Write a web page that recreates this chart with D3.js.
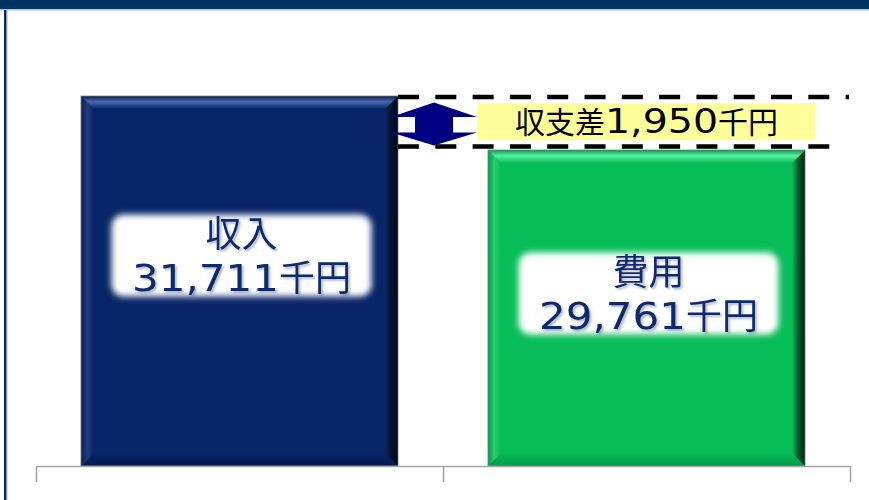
<!DOCTYPE html>
<html>
<head>
<meta charset="utf-8">
<script src="https://cdn.jsdelivr.net/npm/d3@7"></script>
<style>
  html, body { margin: 0; padding: 0; background: #ffffff; }
  svg { display: block; }
</style>
</head>
<body>
<script>
// ---- data ----
const categories = ["収入", "費用"];
const values = [31711, 29761];
const unitLabel = "千円";
const gapLabel = "収支差";
const axisMin = 18350;

// ---- styles ----
const palettes = [
  { base: "#082567", light: "#4a68aa", edge: "#0a2058", dark: "#010816", low: "#051a4c" },
  { base: "#07bd58", light: "#5cf0a4", edge: "#079a48", dark: "#032414", low: "#05994a" }
];
const textColor = "#0e2b6b";
const cjkFont = "'Noto Sans CJK JP', 'Noto Sans', sans-serif";
const digitFont = "'DejaVu Sans', 'Noto Sans', sans-serif";

const W = 869, H = 500;
const svg = d3.select("body").append("svg").attr("width", W).attr("height", H);
const defs = svg.append("defs");

// scales
const x = d3.scaleBand().domain(categories).range([36, 850])
  .paddingInner(0.221).paddingOuter(0.1105);
const y = d3.scaleLinear().domain([axisMin, d3.max(values)]).range([466, 96]);
const fmt = d3.format(",");

// frame: header band and left rule
svg.append("rect").attr("x", 0).attr("y", 0).attr("width", W).attr("height", 9).attr("fill", "#003366");
svg.append("line").attr("x1", 0).attr("x2", W).attr("y1", 9.8).attr("y2", 9.8)
  .attr("stroke", "#b7c3d6").attr("stroke-width", 1.4);
svg.append("rect").attr("x", 4).attr("y", 10).attr("width", 2.6).attr("height", H - 10).attr("fill", "#0b2a6c");
svg.append("line").attr("x1", 7.2).attr("x2", 7.2).attr("y1", 10).attr("y2", H)
  .attr("stroke", "#c4cede").attr("stroke-width", 1);

// filters
const soft = defs.append("filter").attr("id", "soft").attr("x", "-10%").attr("y", "-20%").attr("width", "120%").attr("height", "140%");
soft.append("feGaussianBlur").attr("stdDeviation", 3.2);
const shadow = defs.append("filter").attr("id", "txtShadow").attr("x", "-10%").attr("y", "-20%").attr("width", "130%").attr("height", "150%");
shadow.append("feDropShadow").attr("dx", 1.8).attr("dy", 1.8).attr("stdDeviation", 1)
  .attr("flood-color", "#5d6b8c").attr("flood-opacity", 0.5);

function grad(id, vertical, stops) {
  const g = defs.append("linearGradient").attr("id", id)
    .attr("x1", 0).attr("y1", 0).attr("x2", vertical ? 0 : 1).attr("y2", vertical ? 1 : 0);
  stops.forEach(([o, c]) => g.append("stop").attr("offset", o).attr("stop-color", c));
  return `url(#${id})`;
}

// bevelled bar
function bevelBar(g, x0, y0, w, h, p, i) {
  const b = 13;
  const x1 = x0 + w, y1 = y0 + h;
  g.append("rect").attr("x", x0).attr("y", y0).attr("width", w).attr("height", h).attr("fill", p.base);
  const topF = grad(`top${i}`, true, [[0, p.edge], [0.45, p.light], [1, p.base]]);
  const leftF = grad(`left${i}`, false, [[0, p.edge], [0.5, d3.interpolateRgb(p.base, p.light)(0.35)], [1, p.base]]);
  const rightF = grad(`right${i}`, false, [[0, p.base], [0.45, d3.interpolateRgb(p.base, p.dark)(0.6)], [1, p.dark]]);
  const botF = grad(`bot${i}`, true, [[0, p.base], [1, p.low]]);
  const poly = pts => pts.map(d => d.join(",")).join(" ");
  g.append("polygon").attr("points", poly([[x0, y1], [x0 + b, y1 - b], [x1 - b, y1 - b], [x1, y1]])).attr("fill", botF);
  g.append("polygon").attr("points", poly([[x0, y0], [x0 + b, y0 + b], [x0 + b, y1 - b], [x0, y1]])).attr("fill", leftF);
  g.append("polygon").attr("points", poly([[x1, y0], [x1 - b, y0 + b], [x1 - b, y1 - b], [x1, y1]])).attr("fill", rightF);
  g.append("polygon").attr("points", poly([[x0, y0], [x1, y0], [x1 - b, y0 + b], [x0 + b, y0 + b]])).attr("fill", topF);
  g.append("rect").attr("x", x0).attr("y", y0).attr("width", w).attr("height", h)
    .attr("fill", "none").attr("stroke", "#7c7c7c").attr("stroke-opacity", 0.7).attr("stroke-width", 1);
}

// text line of the form "<number>千円" with wide digits
function numberLine(parent, cx, baseline, num, cjkSize, digitSize, digitAdv, commaAdv, color) {
  const s = fmt(num);
  const nDig = s.replace(/,/g, "").length, nCom = s.length - nDig;
  const dLen = nDig * digitAdv + nCom * commaAdv;
  const total = dLen + 2 * cjkSize;
  const t = parent.append("text").attr("x", cx - total / 2).attr("y", baseline)
    .attr("fill", color);
  t.append("tspan").attr("font-family", digitFont).attr("font-size", digitSize).attr("textLength", dLen)
    .attr("lengthAdjust", "spacingAndGlyphs").text(s);
  t.append("tspan").attr("font-family", cjkFont).attr("font-size", cjkSize).text(unitLabel);
  return t;
}

const barBottom = y.range()[0];
const bars = svg.append("g");
categories.forEach((c, i) => {
  const x0 = x(c), w = x.bandwidth(), y0 = y(values[i]), h = barBottom - y0;
  bevelBar(bars.append("g"), x0, y0, w, h, palettes[i], i);

  // label box
  const cx = x0 + w / 2 + 2;
  const cy = y0 + 50 + 0.296 * h;
  bars.append("rect").attr("x", cx - 130).attr("y", cy - 41).attr("width", 260).attr("height", 82)
    .attr("rx", 12).attr("fill", "#ffffff").attr("filter", "url(#soft)");
  const lg = bars.append("g").attr("filter", "url(#txtShadow)");
  lg.append("text").attr("x", cx).attr("y", cy - 9).attr("text-anchor", "middle")
    .attr("font-family", cjkFont).attr("font-size", 36).attr("fill", textColor).text(c);
  numberLine(lg, cx, cy + 35, values[i], 36, 37, 27, 12, textColor);
});

// category axis with ticks between categories
const xb = d3.scaleLinear().domain([0, categories.length]).range(x.range());
const axis = svg.append("g").attr("transform", `translate(0,${barBottom})`)
  .call(d3.axisBottom(xb).tickValues(d3.range(categories.length + 1)).tickSize(16).tickSizeOuter(0).tickFormat(""));
axis.selectAll("path, line").attr("stroke", "#a6a6a6").attr("stroke-width", 1.6);

// difference marker
const diff = values[0] - values[1];
const yTop = y(values[0]) + 1, yBot = y(values[1]) - 3.5;
const gx0 = x(categories[0]) + x.bandwidth();
const gap = svg.append("g");
[[yTop, x.range()[1] - 1], [yBot, x.range()[1] - 10]].forEach(([yy, xe]) => {
  gap.append("line").attr("x1", gx0).attr("x2", xe).attr("y1", yy).attr("y2", yy)
    .attr("stroke", "#000").attr("stroke-width", 4.6).attr("stroke-dasharray", "21,16.3");
});

// double-headed arrow
const ax = gx0 + 36;
const arrowPts = [
  [ax, yTop + 5.5], [ax + 43, yTop + 20], [ax + 19, yTop + 20], [ax + 19, yBot - 14],
  [ax + 43, yBot - 14], [ax, yBot - 1], [ax - 43, yBot - 14], [ax - 19, yBot - 14],
  [ax - 19, yTop + 20], [ax - 43, yTop + 20]
];
gap.append("polygon").attr("points", arrowPts.map(d => d.join(",")).join(" ")).attr("fill", "#000080");

// difference label
const lcx = x(categories[1]) + x.bandwidth() / 2;
const lcy = (yTop + yBot) / 2;
gap.append("rect").attr("x", lcx - 169).attr("y", lcy - 18.5).attr("width", 338).attr("height", 37).attr("fill", "#ffff99");
{
  const s = fmt(diff);
  const nDig = s.replace(/,/g, "").length, nCom = s.length - nDig;
  const dLen = nDig * 25 + nCom * 13;
  const total = 3 * 30 + dLen + 2 * 30;
  const t = gap.append("text").attr("x", lcx - total / 2).attr("y", lcy + 11).attr("fill", "#000");
  t.append("tspan").attr("font-family", cjkFont).attr("font-size", 30).text(gapLabel);
  t.append("tspan").attr("font-family", digitFont).attr("font-size", 33).attr("textLength", dLen)
    .attr("lengthAdjust", "spacingAndGlyphs").text(s);
  t.append("tspan").attr("font-family", cjkFont).attr("font-size", 30).text(unitLabel);
}
</script>
</body>
</html>
